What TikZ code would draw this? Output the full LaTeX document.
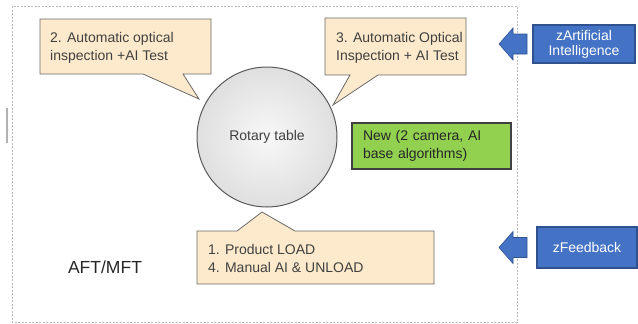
\documentclass[tikz,border=0pt]{standalone}
\usepackage{fontspec}
\setmainfont{Liberation Sans}
\usepackage{xcolor}

\definecolor{notefill}{RGB}{253,234,204}
\definecolor{noteline}{RGB}{105,105,105}
\definecolor{textgray}{RGB}{64,64,64}
\definecolor{newgreen}{RGB}{146,208,80}
\definecolor{boxblue}{RGB}{68,114,196}
\definecolor{boxline}{RGB}{47,82,143}

\begin{document}
\begin{tikzpicture}[x=1pt,y=-1pt,
    note/.style={draw=noteline, fill=notefill, line width=0.8pt},
    notetext/.style={anchor=west, inner sep=0pt, align=left, text=textgray,
        font=\fontsize{14}{18}\selectfont},
    bluebox/.style={draw=boxline, fill=boxblue, line width=1.2pt, text=white,
        align=center, font=\fontsize{14}{15}\selectfont}]
            \useasboundingbox (0,0) rectangle (638,324);
            % Define table radius
            \def\r{70}
            % Draw the dashed frame and the small mark left of it
            \draw[gray!55, dash pattern=on 2pt off 1.5pt, line width=0.8pt] (12,6) rectangle (517,322);
            \draw[gray!60, line width=1.2pt] (7,108) -- (7,143);
            % Draw the callouts
            \draw[note] (40,19) -- (211,19) -- (211,74) -- (183,74) -- (199,99) -- (143,74) -- (40,74) -- cycle;
            \draw[note] (325,18) -- (466,18) -- (466,75) -- (378,75) -- (333,105) -- (350,75) -- (325,75) -- cycle;
            \draw[note] (197,231) -- (237,231) -- (262,212) -- (295,231) -- (434,231) -- (434,284) -- (197,284) -- cycle;
            \node[notetext] (aoi2) at (50,48) {2. Automatic optical\\inspection +AI Test};
            \node[notetext] (aoi3) at (336,48) {3. Automatic Optical\\Inspection + AI Test};
            \node[notetext] (load) at (208,258) {1. Product LOAD\\4. Manual AI \& UNLOAD};
            % Draw the rotary table
            \node[circle, minimum size=2*\r, draw=black!65, line width=1pt,
                inner color=gray!6, outer color=gray!25, text=textgray,
                font=\fontsize{14}{18}\selectfont] (table) at (267,137) {Rotary table};
            \node[draw=black!75, line width=1.5pt, fill=newgreen, minimum width=159, minimum height=46,
                text width=137, inner sep=0pt, align=left, text=black!85,
                font=\fontsize{14}{18}\selectfont] (newalg) at (431.5,146) {New (2 camera, AI\\base algorithms)};
            \node[text=black!85, font=\fontsize{17.5}{20}\selectfont] (aft) at (105,267) {AFT/MFT};
            % Draw the blue boxes and their arrows
            \node[bluebox, minimum width=102, minimum height=38] (ai) at (584,44) {zArtificial\\Intelligence};
            \node[bluebox, minimum width=100, minimum height=41] (fb) at (587,247.5) {zFeedback};
            \coordinate (edge) at (527,0);
            \foreach \b in {ai,fb} {
                \filldraw[fill=boxblue, draw=boxline, line width=0.6pt, shift={(\b.west -| edge)}]
                    (-28,0) -- (-14,-16) -- (-14,-10) -- (0,-10) -- (0,10) -- (-14,10) -- (-14,16) -- cycle;
            }
        \end{tikzpicture}
\end{document}
